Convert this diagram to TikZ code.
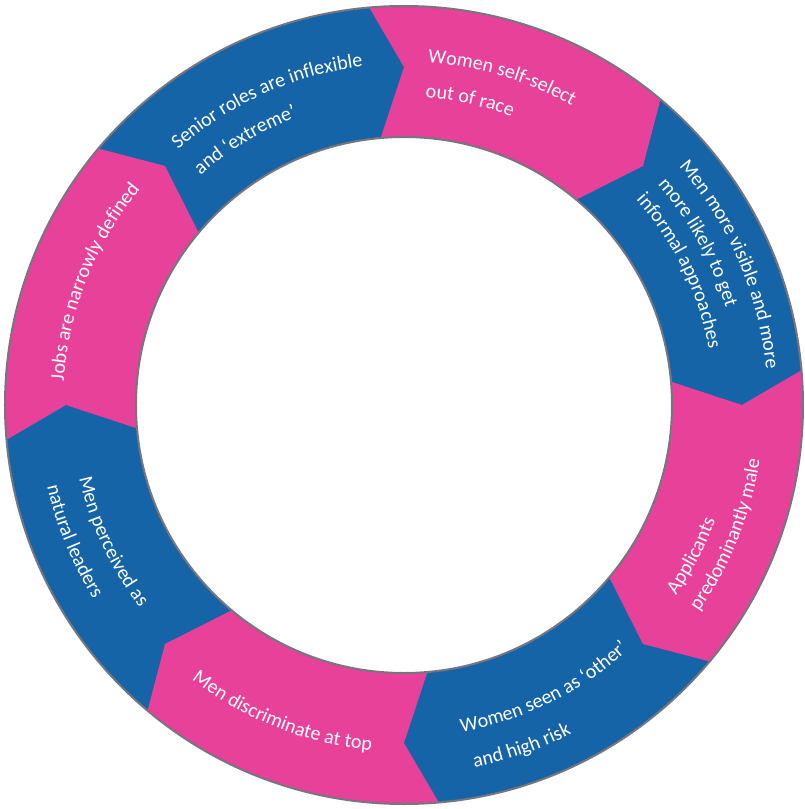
\documentclass[tikz,border=0pt]{standalone}
\usepackage{fontspec}
\setmainfont{Carlito}
\usetikzlibrary{decorations.text}
\definecolor{ringpink}{HTML}{E8419A}
\definecolor{ringblue}{HTML}{1664A8}
\definecolor{ringedge}{HTML}{76767F}
\begin{document}
\begin{tikzpicture}[x=1pt,y=1pt,
  ringtext/.style={decorate, decoration={text along path, text align=left,
    text={|\fontsize{20}{24}\selectfont\color{white}|#1}}}]
\useasboundingbox (-404,-404) rectangle (401,405);
\def\Ro{399pt}\def\Ri{268pt}\def\Rm{338pt}
% blue ring as the base layer
\fill[ringblue, even odd rule] (0,0) circle[radius=\Ro] (0,0) circle[radius=\Ri];
% pink chevron segments: notch at the tail, point at the head (clockwise)
\foreach \a in {95,5,-85,-175}{
  \fill[ringpink] (\a:\Ro) arc[start angle=\a, end angle=\a-45, radius=\Ro]
    -- ({\a-50}:\Rm) -- ({\a-45}:\Ri)
    arc[start angle=\a-45, end angle=\a, radius=\Ri]
    -- ({\a-5}:\Rm) -- cycle;
}
% grey rims
\draw[ringedge, line width=2pt] (0,0) circle[radius=\Ro] (0,0) circle[radius=\Ri];

% upper labels: read clockwise, letters facing outward
\path[ringtext={Jobs are narrowly defined}] (176:341pt) arc[start angle=176, end angle=100, radius=341pt];
\path[ringtext={Senior roles are inflexible}] (131.5:341pt) arc[start angle=131.5, end angle=60, radius=341pt];
\path[ringtext={and ‘extreme’}] (131.5:307pt) arc[start angle=131.5, end angle=60, radius=307pt];
\path[ringtext={Women self-select}] (86:343pt) arc[start angle=86, end angle=20, radius=343pt];
\path[ringtext={out of race}] (86:308pt) arc[start angle=86, end angle=20, radius=308pt];
\path[ringtext={Men more visible and more}] (41:364pt) arc[start angle=41, end angle=-30, radius=364pt];
\path[ringtext={more likely to get}] (41:336pt) arc[start angle=41, end angle=-30, radius=336pt];
\path[ringtext={informal approaches}] (41.5:310pt) arc[start angle=41.5, end angle=-30, radius=310pt];

% lower labels: read counter-clockwise, letters facing inward
\path[ringtext={Applicants}] (-35:332pt) arc[start angle=-35, end angle=40, radius=332pt];
\path[ringtext={predominantly male}] (-35:360pt) arc[start angle=-35, end angle=40, radius=360pt];
\path[ringtext={Women seen as ‘other’}] (-80:332pt) arc[start angle=-80, end angle=-10, radius=332pt];
\path[ringtext={and high risk}] (-79:369pt) arc[start angle=-79, end angle=-10, radius=369pt];
\path[ringtext={Men discriminate at top}] (-127.7:347pt) arc[start angle=-127.7, end angle=-60, radius=347pt];
\path[ringtext={Men perceived as}] (-167.3:333pt) arc[start angle=-167.3, end angle=-100, radius=333pt];
\path[ringtext={natural leaders}] (-167.2:366pt) arc[start angle=-167.2, end angle=-100, radius=366pt];
\end{tikzpicture}
\end{document}
